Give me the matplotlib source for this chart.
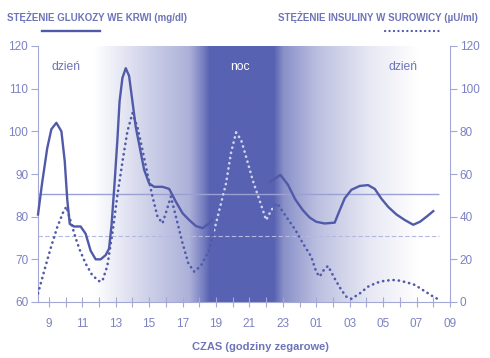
import numpy as np
import matplotlib.pyplot as plt
from matplotlib.patches import Rectangle

plt.rcParams['font.family'] = ['Liberation Sans', 'DejaVu Sans']

# glucose (mg/dl) vs clock hour (hours past midnight of day 1, >24 = next day)
gluc_h = [8.35, 8.6, 8.9, 9.15, 9.45, 9.75, 9.95, 10.1, 10.25, 10.5, 10.9, 11.2, 11.5,
          11.8, 12.1, 12.4, 12.6, 12.75, 12.93, 13.1, 13.23, 13.4, 13.6, 13.8, 14.0, 14.2,
          14.45, 14.7, 15.0, 15.3, 15.8, 16.2, 16.6, 17.0, 17.4, 17.8, 18.2, 18.6, 19.2,
          20.0, 21.0, 21.8, 22.3, 22.85, 23.3, 23.75, 24.2, 24.6, 25.0, 25.5, 26.1, 26.4,
          26.7, 27.1, 27.6, 28.1, 28.5, 28.9, 29.3, 29.8, 30.3, 30.8, 31.2, 31.6, 32.0]
gluc_v = [80.5, 88, 96, 100.5, 102, 100, 93, 84, 78.3, 77.7, 77.7, 76, 72,
          70, 70, 71, 72.5, 78, 87.8, 98, 107, 112.5, 114.8, 113, 107, 101,
          96, 91, 87.8, 87, 87, 86.5, 83.5, 80.8, 79.2, 77.8, 77.3, 78.5, 81,
          85, 87, 87.5, 88.3, 89.8, 87.5, 84, 81.5, 79.8, 78.8, 78.4, 78.6, 81.5,
          84.3, 86.3, 87.2, 87.4, 86.5, 84.2, 82.3, 80.5, 79.2, 78.1, 78.8, 80, 81.3]

# insulin (uU/ml)
ins_h = [8.35, 8.7, 9.1, 9.5, 9.85, 10.05, 10.3, 10.6, 10.85, 11.2, 11.6, 12.0, 12.2,
         12.5, 12.83, 13.1, 13.42, 13.7, 14.0, 14.3, 14.6, 14.9, 15.2, 15.5, 15.8, 16.05,
         16.3, 16.6, 17.0, 17.35, 17.7, 18.1, 18.6, 19.1, 19.6, 19.9, 20.2, 20.5, 20.8,
         21.2, 21.6, 22.0, 22.3, 22.65, 23.2, 23.75, 24.2, 24.7, 25.0, 25.2, 25.45, 25.7,
         26.1, 26.5, 26.8, 27.1, 27.6, 28.1, 28.6, 29.1, 29.6, 30.0, 30.5, 30.9, 31.4,
         31.9, 32.4]
ins_v = [4, 14, 25, 35, 42, 44.7, 38, 30, 24.4, 18, 12.5, 9.8, 9.8,
         17, 33.8, 50, 66.6, 80, 88.5, 82, 71.3, 60, 49.4, 40, 36.9, 43,
         49.4, 40, 27.5, 18, 14.2, 17, 24.4, 40, 55.6, 70, 79.5, 76, 68.1,
         57, 47.8, 38.4, 43, 46.3, 40, 33.8, 27.5, 21.2, 14, 11.9, 15, 16.9,
         11, 5.6, 2.5, 1.5, 4, 7.2, 9, 10, 10.3, 10, 9, 8, 5.5,
         3, 0.8]

gluc_ref = 85.3
ins_ref_gluc = 75.5

xticks = [9, 11, 13, 15, 17, 19, 21, 23, 25, 27, 29, 31, 33]
xlabels = ['9', '11', '13', '15', '17', '19', '21', '23', '01', '03', '05', '07', '09']

dark = np.array([88, 98, 178]) / 255
line_c = '#515aa8'
txt_c = '#6d74ba'
tick_c = '#7c82c2'
ax_c = '#a4a8d4'
dots = (0, (0.1, 1.9))

fig = plt.figure(figsize=(4.9, 3.58), dpi=100)
ax = fig.add_axes([38 / 490, 1 - 302 / 358, 412 / 490, 256 / 358])
x0, x1 = 8.35, 32.85
ax.set_xlim(x0, x1)
ax.set_ylim(60, 120)

# night shading
hh = np.linspace(x0, x1, 600)
t = np.interp(hh, [11.7, 15.0, 17.4, 18.3, 18.6, 22.45, 23.05, 25.1, 28.1, 31.1],
              [0, 0.3, 0.5, 0.85, 1, 1, 0.7, 0.4, 0.15, 0])
img = (1 - t)[:, None] * np.ones(3) + t[:, None] * dark
ax.imshow(img[None, :, :], extent=(x0, x1, 60, 120), aspect='auto', zorder=0)

ax.hlines(gluc_ref, x0, 32.35, color='#9aa0d4', lw=1.0, zorder=1)
ax.hlines(ins_ref_gluc, x0, 32.35, color='#b4b8e0', lw=0.8, ls=(0, (4, 2)), zorder=1)

ax2 = ax.twinx()
ax2.set_ylim(0, 120)
ax2.set_zorder(ax.get_zorder() + 1)
ax2.patch.set_visible(False)

ax2.plot(ins_h, ins_v, color=line_c, lw=1.9, ls=dots, dash_capstyle='round', zorder=2)
light = ax2.plot(ins_h, ins_v, color='#d0d4f0', lw=1.9, ls=dots,
                 dash_capstyle='round', zorder=3)[0]
light.set_clip_path(Rectangle((18.9, -10), 3.5, 140, transform=ax2.transData))

gl_scaled = [(v - 60) * 2 for v in gluc_v]
for cx0, cx1 in ((x0 - 1, 18.85), (22.2, x1 + 1)):
    g = ax2.plot(gluc_h, gl_scaled, color=line_c, lw=1.7, zorder=4)[0]
    g.set_clip_path(Rectangle((cx0, -10), cx1 - cx0, 140, transform=ax2.transData))

ax.set_yticks(range(60, 121, 10))
ax2.set_yticks(range(0, 121, 20))
ax.set_xticks(xticks)
ax.set_xticklabels(xlabels)
ax.set_xticks(np.arange(10, 33, 2), minor=True)

for a in (ax, ax2):
    for s in a.spines.values():
        s.set_visible(False)
    a.tick_params(which='both', colors=ax_c, labelcolor=tick_c, labelsize=8.5,
                  length=5, width=0.8)
ax.spines['left'].set_visible(True)
ax2.spines['right'].set_visible(True)
ax.spines['bottom'].set_visible(True)
for s in ('left', 'bottom'):
    ax.spines[s].set_color(ax_c)
ax2.spines['right'].set_color(ax_c)
ax.tick_params(axis='x', which='both', direction='inout', length=7, pad=8)
ax.tick_params(axis='y', pad=2)
ax2.tick_params(axis='y', pad=2)

ax.text(10.0, 115, 'dzień', color=txt_c, fontsize=8.7, ha='center', va='center')
ax.text(20.45, 115, 'noc', color='white', fontsize=8.7, ha='center', va='center')
ax.text(30.2, 115, 'dzień', color=txt_c, fontsize=8.7, ha='center', va='center')

fig.text(7 / 490, 1 - 17 / 358, 'STĘŻENIE GLUKOZY WE KRWI (mg/dl)', color=txt_c,
         fontsize=7.0, fontweight='bold', va='center', ha='left')
fig.text(478 / 490, 1 - 17 / 358, 'STĘŻENIE INSULINY W SUROWICY (µU/ml)', color=txt_c,
         fontsize=7.0, fontweight='bold', va='center', ha='right')
fig.lines.append(plt.Line2D([42 / 490, 100 / 490], [1 - 31 / 358] * 2, color=line_c,
                            lw=1.7, transform=fig.transFigure))
fig.lines.append(plt.Line2D([385 / 490, 442 / 490], [1 - 31 / 358] * 2, color=line_c,
                            lw=1.6, ls=dots, dash_capstyle='round',
                            transform=fig.transFigure))
fig.text(260 / 490, 1 - 347 / 358, 'CZAS (godziny zegarowe)', color=txt_c,
         fontsize=8, fontweight='bold', ha='center', va='center')

fig.savefig('out.png', dpi=100)
